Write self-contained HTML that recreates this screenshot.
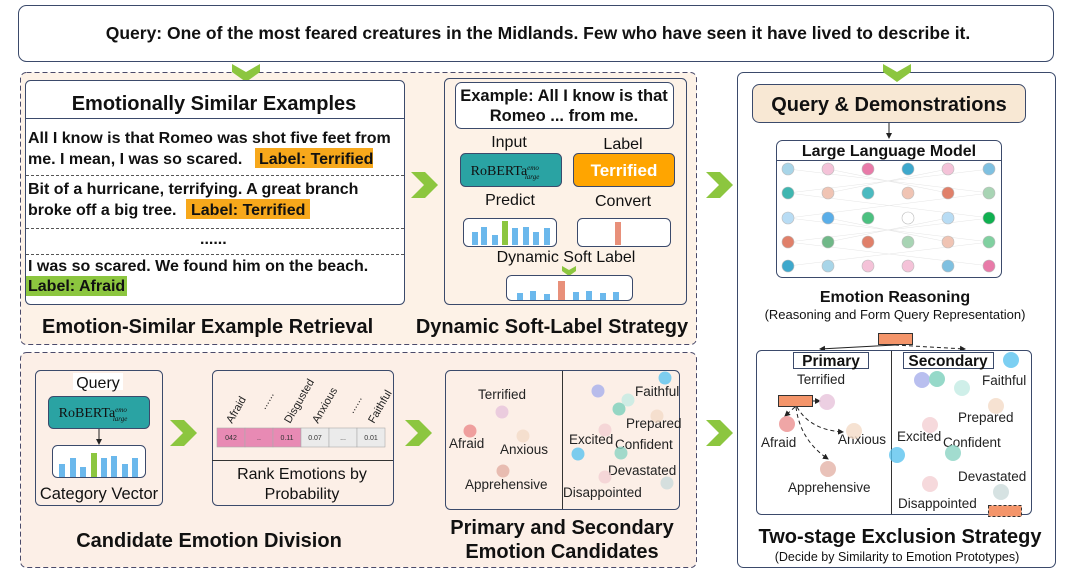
<!DOCTYPE html>
<html><head><meta charset="utf-8"><style>
html,body{margin:0;padding:0;background:#fff;}
svg{display:block;font-family:"Liberation Sans",sans-serif;}
.b{font-weight:bold;}
</style></head><body>
<svg width="1079" height="578" viewBox="0 0 1079 578" xmlns="http://www.w3.org/2000/svg">
<defs>
<marker id="ar" markerWidth="6" markerHeight="6" refX="5" refY="3" orient="auto"><path d="M0,0L6,3L0,6z" fill="#222"/></marker>
</defs>
<rect x="18.5" y="5.5" width="1035" height="56" rx="8" fill="#fff" stroke="#3b4a6b"/>
<text x="538" y="39" text-anchor="middle" class="b" font-size="17.5" fill="#111">Query: One of the most feared creatures in the Midlands. Few who have seen it have lived to describe it.</text>
<rect x="20.5" y="72.5" width="676" height="272" rx="6" fill="#fdf2e7" stroke="#4a4a6a" stroke-dasharray="5,3"/>
<rect x="20.5" y="352.5" width="676" height="215" rx="6" fill="#fcefe7" stroke="#4a4a6a" stroke-dasharray="5,3"/>
<rect x="737.5" y="72.5" width="318" height="495" rx="6" fill="#fff" stroke="#3b4a6b"/>
<polygon points="232,64 246,72 260,64 260,72 246,82 232,72" fill="#8cc63f"/>
<polygon points="883,64 897,72 911,64 911,72 897,82 883,72" fill="#8cc63f"/>
<rect x="25.5" y="80.5" width="379" height="224" rx="5" fill="#fff" stroke="#3b4a6b"/>
<text x="214" y="110" text-anchor="middle" class="b" font-size="20" fill="#111">Emotionally Similar Examples</text>
<line x1="25" y1="118.5" x2="404" y2="118.5" stroke="#3b4a6b"/>
<g font-size="16" class="b" fill="#111">
<text x="28" y="143">All I know is that Romeo was shot five feet from</text>
<rect x="255" y="148" width="118" height="20" fill="#f7a81b"/>
<text x="28" y="164">me.  I mean, I was so scared. <tspan x="259">Label: Terrified</tspan></text>
<text x="28" y="194">Bit of a hurricane, terrifying. A great branch</text>
<rect x="186" y="199" width="124" height="20" fill="#f7a81b"/>
<text x="28" y="215">broke off a big tree. <tspan x="191">Label: Terrified</tspan></text>
<text x="200" y="244">......</text>
<text x="28" y="271">I was so scared.  We found him on the beach.</text>
<rect x="26" y="276" width="101" height="20" fill="#8cc63f"/>
<text x="28" y="291">Label: Afraid</text>
</g>
<g stroke="#555" stroke-dasharray="3,2"><line x1="26" y1="175.5" x2="404" y2="175.5"/><line x1="26" y1="228.5" x2="404" y2="228.5"/><line x1="26" y1="254.5" x2="404" y2="254.5"/></g>
<text x="42" y="333" class="b" font-size="20" fill="#111">Emotion-Similar Example Retrieval</text>
<g fill="#8cc63f">
<polygon points="411,172 425,172 438,185 425,198 411,198 424,185"/>
<polygon points="706,172 720,172 733,185 720,198 706,198 719,185"/>
<polygon points="170,420 184,420 197,433 184,446 170,446 183,433"/>
<polygon points="405,420 419,420 432,433 419,446 405,446 418,433"/>
<polygon points="706,420 720,420 733,433 720,446 706,446 719,433"/>
</g>
<rect x="444.5" y="78.5" width="242" height="226" rx="5" fill="none" stroke="#3b4a6b"/>
<rect x="455.5" y="82.5" width="218" height="46" rx="6" fill="#fff" stroke="#3b4a6b"/>
<text x="564" y="101" text-anchor="middle" class="b" font-size="16.5" fill="#111">Example: All I know is that</text>
<text x="564" y="121" text-anchor="middle" class="b" font-size="16.5" fill="#111">Romeo ... from me.</text>
<text x="509" y="147" text-anchor="middle" font-size="16" fill="#111">Input</text>
<text x="623" y="149" text-anchor="middle" font-size="16" fill="#111">Label</text>
<rect x="460.5" y="153.5" width="101" height="33" rx="5" fill="#2aa3a3" stroke="#3b4a6b"/>
<text x="505" y="175" text-anchor="middle" font-family="Liberation Serif,serif" font-size="14" fill="#111">RoBERTa<tspan font-size="7" dy="-5" font-style="italic">emo</tspan><tspan font-size="7" dx="-14" dy="9" font-style="italic">large</tspan></text>
<rect x="573.5" y="153.5" width="101" height="33" rx="5" fill="#ffa500" stroke="#3b4a6b"/>
<text x="624" y="176" text-anchor="middle" class="b" font-size="17" fill="#fff">Terrified</text>
<text x="510" y="205" text-anchor="middle" font-size="16" fill="#111">Predict</text>
<text x="623" y="206" text-anchor="middle" font-size="16" fill="#111">Convert</text>
<rect x="463.5" y="218.5" width="93" height="28" rx="5" fill="#fff" stroke="#3b4a6b"/>
<g fill="#6bb8ec"><rect x="472" y="232" width="6" height="13"/><rect x="481" y="227" width="6" height="18"/><rect x="492" y="235" width="6" height="10"/><rect x="512" y="228" width="6" height="17"/><rect x="523" y="227" width="6" height="18"/><rect x="533" y="232" width="6" height="13"/><rect x="544" y="228" width="6" height="17"/></g>
<rect x="502" y="221" width="6" height="24" fill="#8cc63f"/>
<rect x="577.5" y="218.5" width="93" height="28" rx="5" fill="#fff" stroke="#3b4a6b"/>
<rect x="615" y="222" width="6" height="23" fill="#e8907a"/>
<text x="566" y="262" text-anchor="middle" font-size="16" fill="#111">Dynamic Soft Label</text>
<polygon points="562,266 569,270 576,266 576,271 569,276 562,271" fill="#8cc63f"/>
<rect x="506.5" y="275.5" width="126" height="25" rx="5" fill="#fff" stroke="#3b4a6b"/>
<g fill="#6bb8ec"><rect x="517" y="293" width="6" height="7"/><rect x="530" y="291" width="6" height="9"/><rect x="544" y="294" width="6" height="6"/><rect x="573" y="292" width="6" height="8"/><rect x="586" y="291" width="6" height="9"/><rect x="600" y="293" width="6" height="7"/><rect x="613" y="292" width="6" height="8"/></g>
<rect x="558" y="281" width="7" height="19" fill="#e8907a"/>
<text x="552" y="333" text-anchor="middle" class="b" font-size="20" fill="#111">Dynamic Soft-Label Strategy</text>
<rect x="752.5" y="84.5" width="273" height="38" rx="7" fill="#f8e8d4" stroke="#3b4a6b"/>
<text x="889" y="111" text-anchor="middle" class="b" font-size="20" fill="#111">Query &amp; Demonstrations</text>
<line x1="889" y1="123" x2="889" y2="138" stroke="#222" marker-end="url(#ar)"/>
<rect x="776.5" y="140.5" width="225" height="137" rx="6" fill="#fff" stroke="#3b4a6b"/>
<text x="889" y="156" text-anchor="middle" class="b" font-size="16" fill="#111">Large Language Model</text>
<line x1="776" y1="160.5" x2="1001" y2="160.5" stroke="#3b4a6b"/>
<g stroke="#e6e6e6" stroke-width="0.6">
<path d="M788,169L990,193M990,169L788,193M788,193L990,218M990,193L788,218M788,218L990,242M990,218L788,242M788,242L990,266M990,242L788,266M828,169L948,193M948,169L828,193M828,218L948,242M948,218L828,242"/>
</g>
<g stroke="#bbb" stroke-width="0.6">
<circle cx="788" cy="169" r="6" fill="#a8d5e8"/><circle cx="828" cy="169" r="6" fill="#f4c2d8"/><circle cx="868" cy="169" r="6" fill="#e87aa8"/><circle cx="908" cy="169" r="6" fill="#3ea8cc"/><circle cx="948" cy="169" r="6" fill="#f4c2d8"/><circle cx="989" cy="169" r="6" fill="#7fc0e0"/>
<circle cx="788" cy="193" r="6" fill="#3fb6b0"/><circle cx="828" cy="193" r="6" fill="#f0c4b4"/><circle cx="868" cy="193" r="6" fill="#4bbac0"/><circle cx="908" cy="193" r="6" fill="#f0c4b4"/><circle cx="948" cy="193" r="6" fill="#e0806a"/><circle cx="989" cy="193" r="6" fill="#a8d4b4"/>
<circle cx="788" cy="218" r="6" fill="#b8dcf4"/><circle cx="828" cy="218" r="6" fill="#5aaee8"/><circle cx="868" cy="218" r="6" fill="#4cc080"/><circle cx="908" cy="218" r="6" fill="#fff"/><circle cx="948" cy="218" r="6" fill="#b8dcf4"/><circle cx="989" cy="218" r="6" fill="#10b050"/>
<circle cx="788" cy="242" r="6" fill="#e0806a"/><circle cx="828" cy="242" r="6" fill="#70b888"/><circle cx="868" cy="242" r="6" fill="#e0806a"/><circle cx="908" cy="242" r="6" fill="#a8d4b4"/><circle cx="948" cy="242" r="6" fill="#f0c4b4"/><circle cx="989" cy="242" r="6" fill="#80d0a0"/>
<circle cx="788" cy="266" r="6" fill="#3ea8cc"/><circle cx="828" cy="266" r="6" fill="#a8d5e8"/><circle cx="868" cy="266" r="6" fill="#f4c2d8"/><circle cx="908" cy="266" r="6" fill="#f4c2d8"/><circle cx="948" cy="266" r="6" fill="#7fc0e0"/><circle cx="989" cy="266" r="6" fill="#e87aa8"/>
</g>
<text x="895" y="302" text-anchor="middle" class="b" font-size="16" fill="#111">Emotion Reasoning</text>
<text x="895" y="319" text-anchor="middle" font-size="13" fill="#111">(Reasoning and Form Query Representation)</text>
<rect x="878.5" y="333.5" width="34" height="11" fill="#f4956a" stroke="#333"/>
<path d="M895,345L820,349" stroke="#222" fill="none" marker-end="url(#ar)"/>
<path d="M895,345L965,349" stroke="#222" stroke-dasharray="4,3" fill="none" marker-end="url(#ar)"/>
<rect x="756.5" y="350.5" width="275" height="164" rx="5" fill="#fff" stroke="#3b4a6b"/>
<line x1="891.5" y1="351" x2="891.5" y2="514" stroke="#333"/>
<rect x="793.5" y="352.5" width="75" height="16" fill="#fff" stroke="#3b4a6b"/>
<text x="831" y="366" text-anchor="middle" class="b" font-size="15.5" fill="#111">Primary</text>
<rect x="903.5" y="352.5" width="90" height="16" fill="#fff" stroke="#3b4a6b"/>
<text x="948" y="366" text-anchor="middle" class="b" font-size="15.5" fill="#111">Secondary</text>
<g font-size="13.5" fill="#222">
<text x="797" y="384">Terrified</text><text x="761" y="447">Afraid</text><text x="838" y="444">Anxious</text><text x="788" y="492">Apprehensive</text>
<text x="982" y="385">Faithful</text><text x="958" y="422">Prepared</text><text x="897" y="441">Excited</text><text x="943" y="447">Confident</text><text x="958" y="481">Devastated</text><text x="898" y="508">Disappointed</text>
</g>
<rect x="778.5" y="395.5" width="34" height="11" fill="#f4956a" stroke="#333"/>
<g stroke="#222" fill="none" stroke-dasharray="4,3">
<path d="M813,401L820,401" marker-end="url(#ar)"/>
<path d="M795,407L785,416" marker-end="url(#ar)"/>
<path d="M797,407Q810,430 843,432" marker-end="url(#ar)"/>
<path d="M796,407Q800,440 828,459" marker-end="url(#ar)"/>
</g>
<g opacity="0.8">
<circle cx="827" cy="402" r="8" fill="#e8c4dc"/><circle cx="787" cy="424" r="8" fill="#ec9090"/><circle cx="854" cy="431" r="8" fill="#f4dcc8"/><circle cx="828" cy="469" r="8" fill="#e4b4a8"/>
<circle cx="1011" cy="360" r="8" fill="#5cc4f0"/><circle cx="922" cy="380" r="8" fill="#a8b0ec"/><circle cx="937" cy="379" r="8" fill="#7cd0bc"/><circle cx="962" cy="388" r="8" fill="#c4ece4"/><circle cx="996" cy="406" r="8" fill="#f4dcc8"/><circle cx="930" cy="425" r="8" fill="#f4d0d4"/><circle cx="897" cy="455" r="8" fill="#5cc4f0"/><circle cx="953" cy="453" r="8" fill="#8cd4c4"/><circle cx="930" cy="484" r="8" fill="#f4d0d4"/><circle cx="1001" cy="492" r="8" fill="#ccdcdc"/>
</g>
<rect x="988.5" y="505.5" width="33" height="11" fill="#f4956a" stroke="#333" stroke-dasharray="3,2"/>
<text x="900" y="543" text-anchor="middle" class="b" font-size="20" fill="#111">Two-stage Exclusion Strategy</text>
<text x="897" y="561" text-anchor="middle" font-size="12.5" fill="#111">(Decide by Similarity to Emotion Prototypes)</text>
<rect x="35.5" y="370.5" width="127" height="135" rx="5" fill="none" stroke="#3b4a6b"/>
<rect x="73" y="373" width="50" height="17" fill="#fff"/>
<text x="98" y="388" text-anchor="middle" font-size="16" fill="#111">Query</text>
<rect x="48.5" y="396.5" width="101" height="32" rx="5" fill="#2aa3a3" stroke="#3b4a6b"/>
<text x="93" y="417" text-anchor="middle" font-family="Liberation Serif,serif" font-size="14" fill="#111">RoBERTa<tspan font-size="7" dy="-5" font-style="italic">emo</tspan><tspan font-size="7" dx="-14" dy="9" font-style="italic">large</tspan></text>
<line x1="99" y1="429" x2="99" y2="444" stroke="#222" marker-end="url(#ar)"/>
<rect x="52.5" y="445.5" width="93" height="32" rx="5" fill="#fff" stroke="#3b4a6b"/>
<g fill="#6bb8ec"><rect x="59" y="464" width="6" height="13"/><rect x="70" y="458" width="6" height="19"/><rect x="80" y="467" width="6" height="10"/><rect x="101" y="458" width="6" height="19"/><rect x="111" y="456" width="6" height="21"/><rect x="122" y="464" width="6" height="13"/><rect x="132" y="458" width="6" height="19"/></g>
<rect x="91" y="453" width="6" height="24" fill="#8cc63f"/>
<text x="99" y="499" text-anchor="middle" font-size="16.5" fill="#111">Category Vector</text>
<rect x="212.5" y="370.5" width="181" height="135" rx="5" fill="none" stroke="#3b4a6b"/>
<g font-size="11" fill="#222">
<text transform="translate(232,424) rotate(-60)">Afraid</text>
<text transform="translate(265,410) rotate(-60)">......</text>
<text transform="translate(290,424) rotate(-60)">Disgusted</text>
<text transform="translate(318,424) rotate(-60)">Anxious</text>
<text transform="translate(353,414) rotate(-60)">......</text>
<text transform="translate(374,424) rotate(-60)">Faithful</text>
</g>
<g stroke="#aaa" stroke-width="0.6">
<rect x="217" y="428" width="28" height="19" fill="#e88ab4"/><rect x="245" y="428" width="28" height="19" fill="#e88ab4"/><rect x="273" y="428" width="28" height="19" fill="#e88ab4"/>
<rect x="301" y="428" width="28" height="19" fill="#ebebeb"/><rect x="329" y="428" width="28" height="19" fill="#ebebeb"/><rect x="357" y="428" width="28" height="19" fill="#ebebeb"/>
</g>
<g font-size="7" fill="#333" text-anchor="middle"><text x="231" y="440">042</text><text x="259" y="440">..</text><text x="287" y="440">0.11</text><text x="315" y="440">0.07</text><text x="343" y="440">...</text><text x="371" y="440">0.01</text></g>
<line x1="212" y1="460.5" x2="393" y2="460.5" stroke="#333"/>
<text x="302" y="479" text-anchor="middle" font-size="16" fill="#111">Rank Emotions by</text>
<text x="302" y="499" text-anchor="middle" font-size="16" fill="#111">Probability</text>
<rect x="445.5" y="370.5" width="234" height="139" rx="5" fill="none" stroke="#3b4a6b"/>
<line x1="562.5" y1="371" x2="562.5" y2="509" stroke="#333"/>
<g font-size="13.5" fill="#222">
<text x="478" y="399">Terrified</text><text x="449" y="448">Afraid</text><text x="500" y="454">Anxious</text><text x="465" y="489">Apprehensive</text>
<text x="635" y="396">Faithful</text><text x="626" y="428">Prepared</text><text x="569" y="444">Excited</text><text x="615" y="449">Confident</text><text x="608" y="475">Devastated</text><text x="563" y="497">Disappointed</text>
</g>
<g opacity="0.8">
<circle cx="502" cy="412" r="6.5" fill="#e8c4dc"/><circle cx="470" cy="431" r="6.5" fill="#ec8c8c"/><circle cx="523" cy="436" r="6.5" fill="#f4dcc8"/><circle cx="503" cy="471" r="6.5" fill="#e4b0a4"/>
<circle cx="665" cy="378" r="6.5" fill="#5cc4f0"/><circle cx="598" cy="391" r="6.5" fill="#a8b0ec"/><circle cx="628" cy="400" r="6.5" fill="#c4ece4"/><circle cx="619" cy="409" r="6.5" fill="#7cd0bc"/><circle cx="657" cy="416" r="6.5" fill="#f4dcc8"/><circle cx="605" cy="430" r="6.5" fill="#f4d0d4"/><circle cx="578" cy="454" r="6.5" fill="#5cc4f0"/><circle cx="621" cy="453" r="6.5" fill="#8cd4c4"/><circle cx="605" cy="477" r="6.5" fill="#f4d0d4"/><circle cx="667" cy="483" r="6.5" fill="#ccdcdc"/>
</g>
<text x="209" y="547" text-anchor="middle" class="b" font-size="20" fill="#111">Candidate Emotion Division</text>
<text x="562" y="534" text-anchor="middle" class="b" font-size="20" fill="#111">Primary and Secondary</text>
<text x="562" y="558" text-anchor="middle" class="b" font-size="20" fill="#111">Emotion Candidates</text>
</svg>
</body></html>
